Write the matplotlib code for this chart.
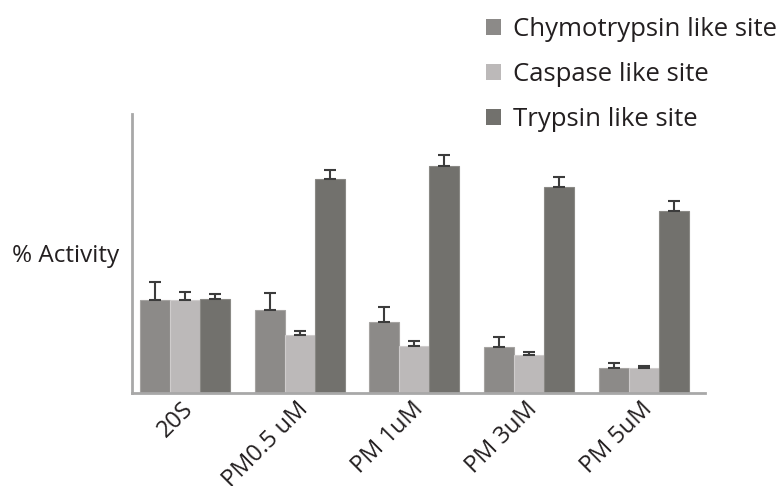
import numpy as np
import matplotlib
matplotlib.use("Agg")
import matplotlib.pyplot as plt
from matplotlib.patches import Patch

plt.rcParams['font.family'] = ['Open Sans', 'DejaVu Sans']

groups = ["20S", "PM0.5 uM", "PM 1uM", "PM 3uM", "PM 5uM"]
series = ["Chymotrypsin like site", "Caspase like site", "Trypsin like site"]

chymo = [100, 89, 76, 50, 27]
caspase = [100, 62, 51, 40.5, 27]
trypsin = [101, 230, 244, 221, 196]

chymo_err = [19, 18, 17, 10, 5]
caspase_err = [9, 5, 5, 4, 2]
trypsin_err = [5, 10, 12, 11.5, 10]

colors = ['#8c8a88', '#bcb9b9', '#72716d']
edges = ['#a5a3a1', '#cfcccc', '#8a8985']

fig = plt.figure(figsize=(7.84, 4.86), dpi=100)
ax = fig.add_axes([132 / 784, 1 - 393 / 486, (705 - 132) / 784, (393 - 114) / 486])

x = np.arange(len(groups))
w = 0.262
values = [chymo, caspase, trypsin]
errs = [chymo_err, caspase_err, trypsin_err]
for i in range(3):
    pos = x + (i - 1) * w
    ax.bar(pos, values[i], width=w, color=colors[i], edgecolor=edges[i],
           linewidth=0.8, label=series[i], zorder=2)
    ax.errorbar(pos, values[i], yerr=[np.zeros(len(groups)), errs[i]], fmt='none',
                ecolor='#3c3c3c', elinewidth=1.5, capsize=4, capthick=1.5, zorder=3)

ax.set_xlim(-0.462, 4.534)
ax.set_ylim(0, 300)
for s in ['top', 'right']:
    ax.spines[s].set_visible(False)
for s in ['left', 'bottom']:
    ax.spines[s].set_color('#a8a8a8')
    ax.spines[s].set_linewidth(2)
ax.set_yticks([])
ax.tick_params(axis='x', length=0, pad=3)
ax.set_xticks(x - 0.03)
ax.set_xticklabels(groups, rotation=45, ha='right', rotation_mode='anchor', fontsize=17, color='#231f20')

fig.text(12 / 784, 1 - 256 / 486, "% Activity", fontsize=17.5, va='center', ha='left', color='#231f20')

handles = [Patch(facecolor=colors[i], edgecolor='none', label=series[i]) for i in range(3)]
fig.legend(handles=handles, loc='upper left', bbox_to_anchor=(486 / 784, 1 - 17 / 486),
           frameon=False, fontsize=18.5, handlelength=0.6, handleheight=0.6,
           handletextpad=0.45, labelspacing=0.78, borderaxespad=0, borderpad=0,
           labelcolor='#231f20')

fig.savefig("out.png", dpi=100)
